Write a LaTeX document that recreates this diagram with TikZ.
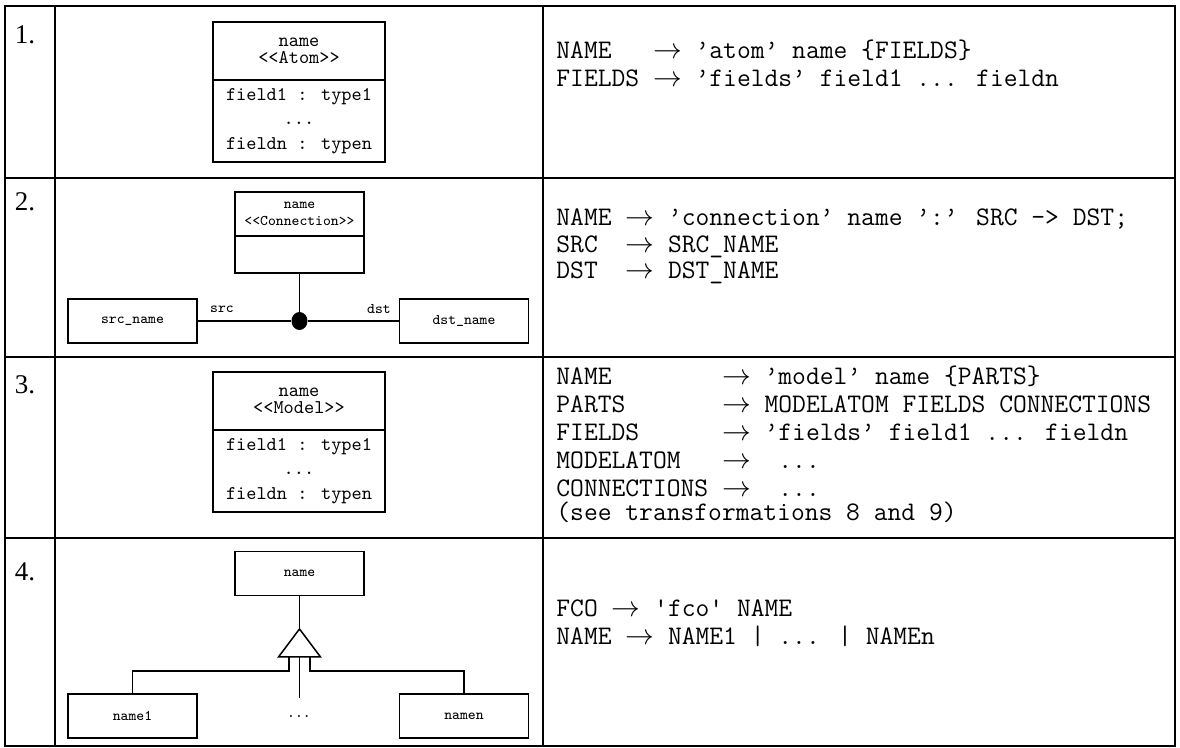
\documentclass[tikz,border=0pt]{standalone}
\usepackage{fontspec}
\setmainfont{Liberation Serif}
\usetikzlibrary{positioning,shapes.geometric}

\begin{document}
\begin{tikzpicture}[
    x=0.5pt, y=-0.5pt,
    tablerule/.style={line width=1pt},
    rownum/.style={inner sep=0pt, font=\fontsize{13.5}{15}\selectfont},
    gram/.style={anchor=base west, inner sep=0pt, font=\ttfamily\fontsize{13.4}{15}\selectfont},
    bighead/.style={draw, line width=1pt, outer sep=0pt, inner sep=0pt, align=center,
                    minimum width=86pt, minimum height=29pt, font=\ttfamily\fontsize{9.7}{8.5}\selectfont},
    bigbody/.style={bighead, minimum height=41pt, font=\ttfamily\fontsize{9.7}{12.2}\selectfont},
    smallbox/.style={draw, line width=0.75pt, outer sep=0pt, inner sep=0pt, align=center,
                     minimum width=64.5pt, minimum height=22pt, font=\ttfamily\fontsize{7.4}{8.5}\selectfont},
    lbl/.style={inner sep=0pt, font=\ttfamily\fontsize{7.4}{8}\selectfont},
    link/.style={line width=0.75pt},
    joint/.style={ellipse, fill, minimum width=8pt, minimum height=9pt, inner sep=0pt}
  ]
    \useasboundingbox (0,0) rectangle (1180,748);

    % table
    \draw[tablerule] (5,6) rectangle (1175,746);
    \draw[tablerule] (55,6) -- (55,746);
    \draw[tablerule] (543,6) -- (543,746);
    \draw[tablerule] (5,178) -- (1175,178);
    \draw[tablerule] (5,357) -- (1175,357);
    \draw[tablerule] (5,538) -- (1175,538);

    \node[rownum] (num1) at (25,35)  {1.};
    \node[rownum] (num2) at (25,202) {2.};
    \node[rownum] (num3) at (25,385) {3.};
    \node[rownum] (num4) at (25,572) {4.};

    % 1. atom
    \node[bighead] (atomhead) at (299,51) {name\\<<Atom>>};
    \node[bigbody, below=0pt of atomhead] (atombody) {field1 : type1\\...\\fieldn : typen};

    \node[gram] (atomname)   at (556,59) {NAME~~~$\rightarrow$ ’atom’ name \{FIELDS\}};
    \node[gram] (atomfields) at (556,87) {FIELDS~$\rightarrow$ ’fields’ field1 ... fieldn};

    % 2. connection
    \node[smallbox] (connhead) at (299.5,214) {name\\<<Connection>>};
    \node[smallbox, below=0pt of connhead, minimum height=18.5pt] (connbody) {};
    \node[smallbox] (srcbox) at (132.5,321) {src\_name};
    \node[smallbox] (dstbox) at (464,321)   {dst\_name};
    \node[joint] (dot) at (299.5,321) {};
    \draw[link] (connbody.south) -- (dot);
    \draw[link] (srcbox.east) -- (dot);
    \draw[link] (dot) -- (dstbox.west);
    \node[lbl] (srclbl) at (222,309) {src};
    \node[lbl] (dstlbl) at (379,309) {dst};

    \node[gram] (connname) at (556,226) {NAME~$\rightarrow$ ’connection’ name ’:’ SRC -> DST;};
    \node[gram] (connsrc)  at (556,253) {SRC~~$\rightarrow$ SRC\_NAME};
    \node[gram] (conndst)  at (556,279) {DST~~$\rightarrow$ DST\_NAME};

    % 3. model
    \node[bighead] (modelhead) at (299,401) {name\\<<Model>>};
    \node[bigbody, below=0pt of modelhead] (modelbody) {field1 : type1\\...\\fieldn : typen};

    \node[gram] (modelname)  at (556,385) {NAME~~~~~~~~$\rightarrow$ ’model’ name \{PARTS\}};
    \node[gram] (modelparts) at (556,413) {PARTS~~~~~~~$\rightarrow$ MODELATOM FIELDS CONNECTIONS};
    \node[gram] (modelfld)   at (556,441) {FIELDS~~~~~~$\rightarrow$ ’fields’ field1 ... fieldn};
    \node[gram] (modelatom)  at (556,469) {MODELATOM~~~$\rightarrow$~~...};
    \node[gram] (modelconn)  at (556,497) {CONNECTIONS~$\rightarrow$~~...};
    \node[gram] (modelsee)   at (556,521) {(see transformations 8 and 9)};

    % 4. fco
    \node[smallbox] (parent) at (299.5,573.5) {name};
    \node[smallbox] (child1) at (132.5,716)   {name1};
    \node[smallbox] (childn) at (464,716)     {namen};
    \node[lbl] (childdots) at (299,717) {...};
    \coordinate (tip)   at (299.5,629);
    \coordinate (basel) at (289,657);
    \coordinate (basem) at (299.5,657);
    \coordinate (baser) at (310,657);
    \draw[link] (parent) -- (tip);
    \draw[link, fill=white] (tip) -- ++(-21,28) -- ++(42,0) -- cycle;
    \draw[link] (basel) -- ++(0,14) -| (child1.north);
    \draw[link] (baser) -- ++(0,14) -| (childn.north);
    \draw[link] (basem) -- ++(0,41);

    \node[gram] (fcorule)  at (556,617) {FCO~$\rightarrow$ 'fco' NAME};
    \node[gram] (fconames) at (556,645) {NAME~$\rightarrow$ NAME1 | ... | NAMEn};
\end{tikzpicture}
\end{document}
